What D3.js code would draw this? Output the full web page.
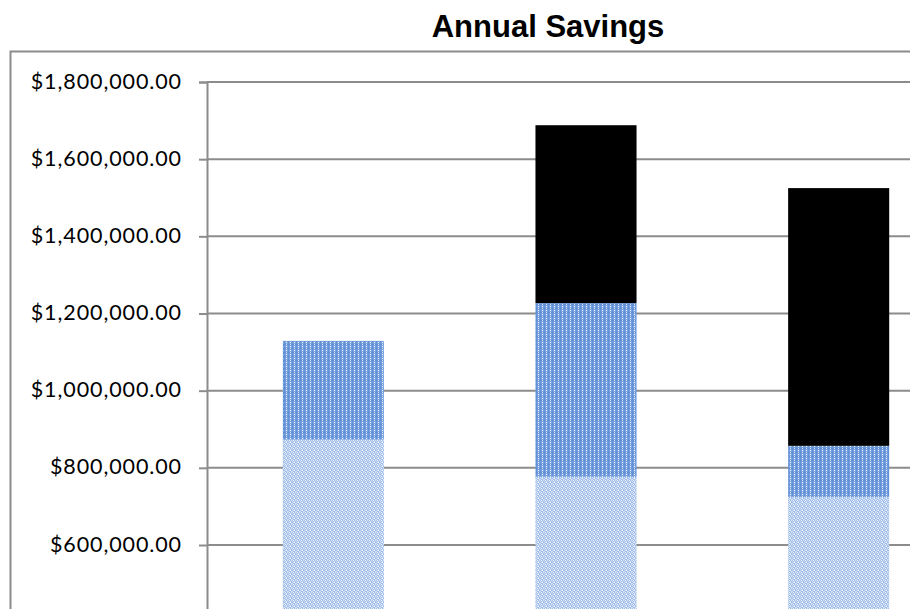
<!DOCTYPE html>
<html>
<head>
<meta charset="utf-8">
<script src="https://cdn.jsdelivr.net/npm/d3@7"></script>
<style>
  html, body { margin: 0; padding: 0; background: #fff; overflow: hidden; }
  svg { display: block; }
</style>
</head>
<body>
<svg id="chart" width="910" height="609"></svg>
<script>
// Stacked annual savings per option (USD)
const categories = ["Option 1", "Option 2", "Option 3"];
const baseSavings = [873000, 777000, 725000];
const addedSavings = [256000, 450000, 132000];
const extraSavings = [0, 461000, 668000];
const tickValues = [600000, 800000, 1000000, 1200000, 1400000, 1600000, 1800000];

const seriesKeys = ["base", "added", "extra"];
const rows = categories.map((c, i) => ({
  category: c,
  base: baseSavings[i],
  added: addedSavings[i],
  extra: extraSavings[i]
}));

const svg = d3.select("#chart");
const defs = svg.append("defs");

// Light dithered fill
const pLight = defs.append("pattern")
  .attr("id", "patLight").attr("patternUnits", "userSpaceOnUse")
  .attr("width", 4).attr("height", 4);
pLight.append("rect").attr("width", 4).attr("height", 4).attr("fill", "#d3e1f5");
[[0,0],[2,0],[1,1],[3,1],[0,2],[3,2],[1,3],[2,3]].forEach(([x, y]) =>
  pLight.append("rect").attr("x", x).attr("y", y).attr("width", 1).attr("height", 1).attr("fill", "#a0bde9"));
[[1,0],[2,2]].forEach(([x, y]) =>
  pLight.append("rect").attr("x", x).attr("y", y).attr("width", 1).attr("height", 1).attr("fill", "#f4f8fd"));

// Medium blue check fill
const pMid = defs.append("pattern")
  .attr("id", "patMid").attr("patternUnits", "userSpaceOnUse")
  .attr("width", 4).attr("height", 4);
pMid.append("rect").attr("width", 4).attr("height", 4).attr("fill", "#78a2e0");
pMid.append("rect").attr("x", 0).attr("y", 0).attr("width", 4).attr("height", 1).attr("fill", "#5b8ad2");
pMid.append("rect").attr("x", 0).attr("y", 0).attr("width", 1).attr("height", 4).attr("fill", "#6391d6");
pMid.append("rect").attr("x", 2).attr("y", 2).attr("width", 1).attr("height", 1).attr("fill", "#f2f6fd");
pMid.append("rect").attr("x", 2).attr("y", 0).attr("width", 1).attr("height", 1).attr("fill", "#d6e4f7");

const fills = { base: "url(#patLight)", added: "url(#patMid)", extra: "#000000" };

// Outer chart frame
svg.append("rect")
  .attr("x", 10.5).attr("y", 51.5).attr("width", 960).attr("height", 700)
  .attr("fill", "none").attr("stroke", "#8c8c8c").attr("stroke-width", 2);

// Title
svg.append("text")
  .attr("x", 548).attr("y", 37)
  .attr("text-anchor", "middle")
  .attr("font-family", "'Liberation Sans', Arial, sans-serif")
  .attr("font-weight", "bold").attr("font-size", 31)
  .attr("fill", "#000")
  .text("Annual Savings");

const plotLeft = 207, plotRight = 965;
const x = d3.scaleBand().domain(categories).range([plotLeft, plotRight]).paddingInner(0.6).paddingOuter(0.3);
const y = d3.scaleLinear().domain([0, 1800000]).range([776.5, 82]);

const fmt = v => "$" + d3.format(",.2f")(v);

// Gridlines
svg.append("g").selectAll("line").data(tickValues).join("line")
  .attr("x1", plotLeft).attr("x2", plotRight)
  .attr("y1", d => y(d)).attr("y2", d => y(d))
  .attr("stroke", "#8c8c8c").attr("stroke-width", 2);

// Y axis
const yAxis = svg.append("g")
  .attr("transform", `translate(${plotLeft},0)`)
  .call(d3.axisLeft(y).tickValues(tickValues).tickFormat(fmt).tickSize(8).tickPadding(17));
yAxis.select(".domain").attr("stroke", "#8c8c8c").attr("stroke-width", 2);
yAxis.selectAll(".tick line").attr("stroke", "#8c8c8c").attr("stroke-width", 2);
yAxis.selectAll(".tick text")
  .attr("font-family", "Lato, 'Open Sans', sans-serif")
  .attr("font-size", 21.5).attr("letter-spacing", 0.9).attr("fill", "#000")
  .attr("dy", "0.28em");

// Stacked bars
const stacked = d3.stack().keys(seriesKeys)(rows);
svg.append("g").selectAll("g").data(stacked).join("g")
  .attr("fill", d => fills[d.key])
  .selectAll("rect").data(d => d).join("rect")
  .attr("x", d => x(d.data.category))
  .attr("width", x.bandwidth())
  .attr("y", d => y(d[1]))
  .attr("height", d => Math.max(0, y(d[0]) - y(d[1])));
</script>
</body>
</html>
